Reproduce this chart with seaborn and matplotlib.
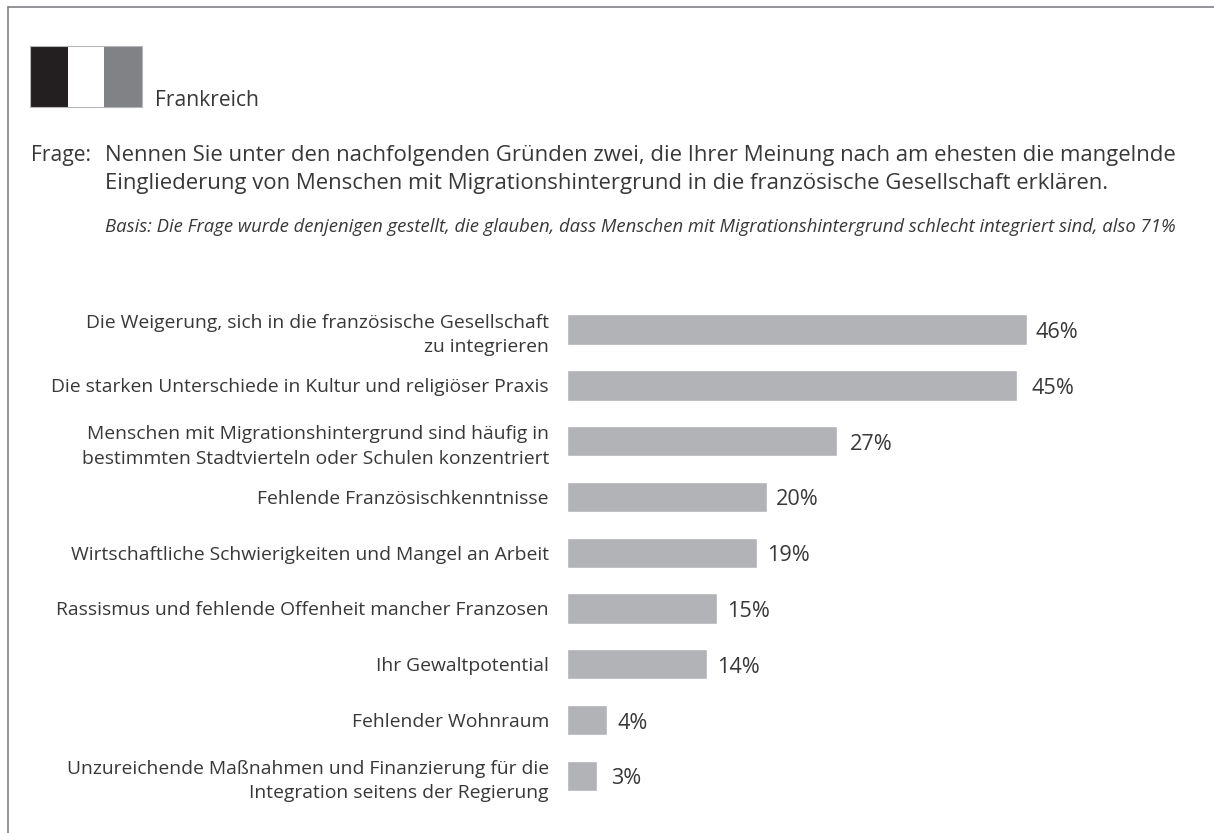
import matplotlib
matplotlib.use("Agg")
import matplotlib.pyplot as plt
from matplotlib.patches import Rectangle
import seaborn as sns
import pandas as pd

categories = [
    "Die Weigerung, sich in die französische Gesellschaft\nzu integrieren",
    "Die starken Unterschiede in Kultur und religiöser Praxis",
    "Menschen mit Migrationshintergrund sind häufig in\nbestimmten Stadtvierteln oder Schulen konzentriert",
    "Fehlende Französischkenntnisse",
    "Wirtschaftliche Schwierigkeiten und Mangel an Arbeit",
    "Rassismus und fehlende Offenheit mancher Franzosen",
    "Ihr Gewaltpotential",
    "Fehlender Wohnraum",
    "Unzureichende Maßnahmen und Finanzierung für die\nIntegration seitens der Regierung",
]
values = [46, 45, 27, 20, 19, 15, 14, 4, 3]
label_gaps = [9, 14, 13, 9, 10, 10, 10, 10, 14]

W, H = 1214, 833
sns.set_theme(style="white")
plt.rcParams["font.family"] = ["Open Sans", "DejaVu Sans"]
fig = plt.figure(figsize=(W/100, H/100), dpi=100, facecolor="white")
TC = "#38383a"

ax = fig.add_axes([567/W, 1-803.7/H, 600/W, 502/H])
df = pd.DataFrame({"c": categories, "v": values})
sns.barplot(data=df, y="c", x="v", ax=ax, color="#b1b3b6", saturation=1, width=0.545, orient="h")
ax.set_xlim(0, 60)
ax.set_ylim(8.5, -0.5)
sns.despine(ax=ax, left=True, bottom=True)
ax.set_xlabel(""); ax.set_ylabel("")
ax.set_xticks([])
ax.tick_params(axis="y", length=0, pad=13, labelsize=13.85, labelcolor=TC)
for lab in ax.get_yticklabels():
    lab.set_ha("right"); lab.set_multialignment("right"); lab.set_linespacing(1.47)
for i, (v, g) in enumerate(zip(values, label_gaps)):
    ax.annotate(f"{v}%", (v, i), xytext=(g, -3), textcoords="offset pixels", va="center", ha="left", fontsize=15.6, color=TC)

def T(x, y, s, **k):
    fig.text(x/W, 1-y/H, s, color=TC, va="center", **k)

T(155, 101, "Frankreich", fontsize=15.2)
T(31, 156, "Frage:", fontsize=15.2)
T(105, 156, "Nennen Sie unter den nachfolgenden Gründen zwei, die Ihrer Meinung nach am ehesten die mangelnde", fontsize=15.9)
T(105, 184, "Eingliederung von Menschen mit Migrationshintergrund in die französische Gesellschaft erklären.", fontsize=15.95)
T(105, 227, "Basis: Die Frage wurde denjenigen gestellt, die glauben, dass Menschen mit Migrationshintergrund schlecht integriert sind, also 71%", fontsize=13.3, style="italic")

# flag
for x, w, c in [(30, 38, "#231f20"), (68, 36, "white"), (104, 38, "#808285")]:
    fig.add_artist(Rectangle((x/W, 1-107/H), w/W, 61/H, transform=fig.transFigure, fc=c, ec="none"))
fig.add_artist(Rectangle((30/W, 1-107/H), 112/W, 61/H, transform=fig.transFigure, fc="none", ec="#b5b6b8", lw=0.8))
# frame
fig.add_artist(plt.Line2D([8/W, 8/W], [0, 1-7/H], color="#808285", lw=1.2))
fig.add_artist(plt.Line2D([8/W, 1], [1-7/H, 1-7/H], color="#808285", lw=1.2))
fig.savefig("out.png", dpi=100)
